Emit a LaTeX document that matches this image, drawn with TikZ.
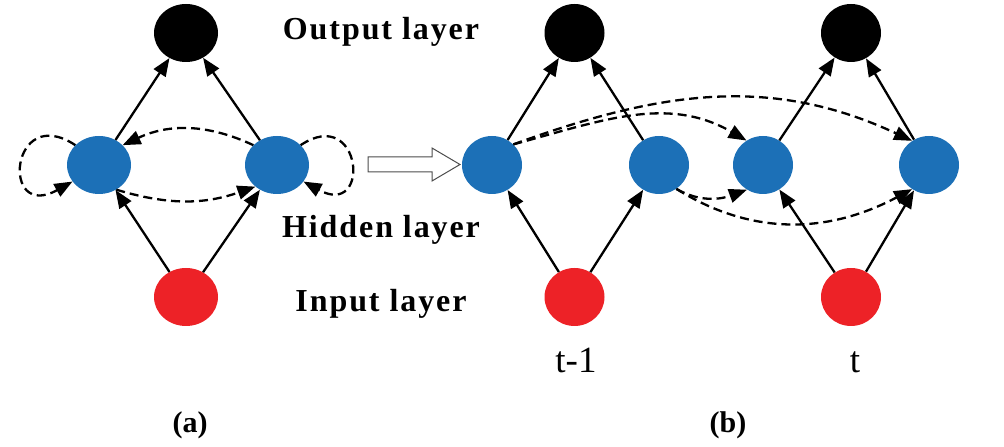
\documentclass[tikz,border=0pt]{standalone}
\usepackage{fontspec}
\setmainfont{Liberation Serif}
\newfontfamily\lblfont[LetterSpace=6]{Liberation Serif}
\usetikzlibrary{arrows.meta,shapes.geometric}
\definecolor{nodeblue}{RGB}{28,112,183}
\definecolor{nodered}{RGB}{237,34,39}
\begin{document}
\begin{tikzpicture}[x=1pt,y=1pt,
  neuronA/.style={ellipse, minimum width=64pt, minimum height=58pt, inner sep=0pt, draw=none},
  neuronB/.style={ellipse, minimum width=60pt, minimum height=58pt, inner sep=0pt, draw=none},
  outc/.style={fill=black},
  hidc/.style={fill=nodeblue},
  inc/.style={fill=nodered},
  arr/.style={line width=2.3pt, -{Triangle[length=18pt,width=14pt]}},
  dsh/.style={arr, dash pattern=on 9pt off 5pt},
  layerlbl/.style={anchor=base, font=\lblfont\bfseries\fontsize{32}{38}\selectfont},
  timelbl/.style={anchor=base, font=\fontsize{37}{44}\selectfont},
  panellbl/.style={anchor=base, font=\bfseries\fontsize{30}{36}\selectfont}
]
\useasboundingbox (0,0) rectangle (1004,447);

% panel (a)
\node[neuronA,outc] (aout) at (186,414) {};
\node[neuronA,hidc] (ah1) at (99,282) {};
\node[neuronA,hidc] (ah2) at (277,282) {};
\node[neuronA,inc] (ain) at (186,150) {};

\draw[arr] (ah1) -- (aout);
\draw[arr] (ah2) -- (aout);
\draw[arr] (ain) -- (ah1);
\draw[arr] (ain) -- (ah2);

\draw[dsh] (ah2.140) to[bend right=25] (ah1.40);
\draw[dsh] (ah1.-55) to[bend right=18] (ah2.-135);
\draw[dsh] (ah1.140) .. controls (10,345) and (0,225) .. (ah1.-148);
\draw[dsh] (ah2.40) .. controls (362,343) and (372,228) .. (ah2.-32);

% hollow arrow
\draw[line width=1pt, draw=black!70, fill=white] (368,275) -- (432,275) -- (432,266) -- (460,282.5) -- (432,299) -- (432,290) -- (368,290) -- cycle;

% labels
\node[layerlbl] (lout) at (381,407) {Output layer};
\node[layerlbl] (lhid) at (381,209) {Hidden layer};
\node[layerlbl] (lin) at (381,135) {Input layer};

% panel (b)
\node[neuronB,outc] (bout1) at (574.5,414) {};
\node[neuronB,outc] (bout2) at (851,414) {};
\node[neuronB,hidc] (bh1) at (492,282) {};
\node[neuronB,hidc] (bh2) at (659,282) {};
\node[neuronB,hidc] (bh3) at (763,282) {};
\node[neuronB,hidc] (bh4) at (929,282) {};
\node[neuronB,inc] (bin1) at (574.5,150) {};
\node[neuronB,inc] (bin2) at (851,150) {};

\draw[arr] (bh1) -- (bout1);
\draw[arr] (bh2) -- (bout1);
\draw[arr] (bin1) -- (bh1);
\draw[arr] (bin1) -- (bh2);
\draw[arr] (bh3) -- (bout2);
\draw[arr] (bh4) -- (bout2);
\draw[arr] (bin2) -- (bh3);
\draw[arr] (bin2) -- (bh4);

\draw[dsh] (bh1.44) to[out=15,in=150] (bh3.124);
\draw[dsh] (bh1.44) to[out=20,in=155] (bh4.125);
\draw[dsh] (bh2.-54) to[out=-30,in=200] (bh3.-123);
\draw[dsh] (bh2.-54) to[out=-32,in=208] (bh4.-125);

\node[timelbl] (tm1) at (576,74) {t-1};
\node[timelbl] (tt) at (855,74) {t};

\node[panellbl] (pa) at (190,14) {(a)};
\node[panellbl] (pb) at (728,14) {(b)};
\end{tikzpicture}
\end{document}
